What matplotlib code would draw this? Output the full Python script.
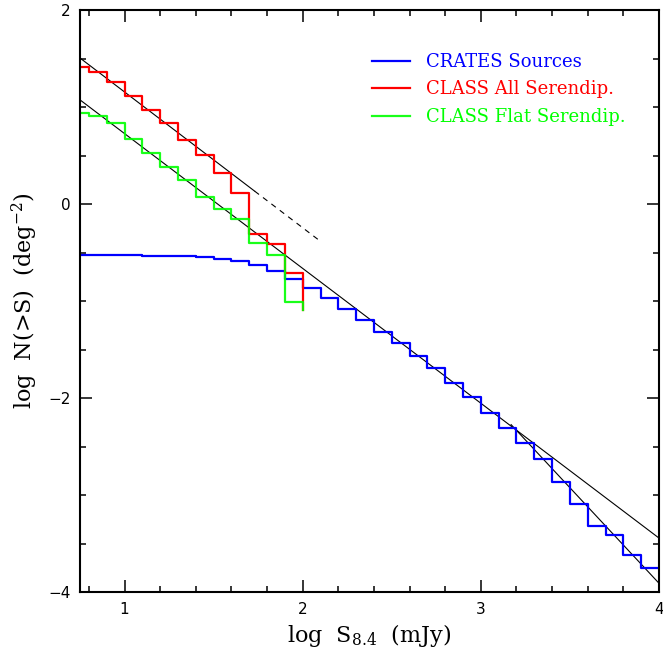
import numpy as np
import matplotlib
matplotlib.use("Agg")
import matplotlib.pyplot as plt
from matplotlib.ticker import MultipleLocator

# ----------------------------------------------------------------------------------
# DATA (log N(>S) per bin of log S_8.4)
# ----------------------------------------------------------------------------------
class_edges = [0.75, 0.8, 0.9, 1.0, 1.1, 1.2, 1.3, 1.4, 1.5, 1.6, 1.7, 1.8, 1.9, 2.0]
class_all = [1.415, 1.36, 1.26, 1.115, 0.97, 0.83, 0.66, 0.505, 0.316, 0.11,
             -0.31, -0.41, -0.71]
class_flat = [0.935, 0.907, 0.83, 0.67, 0.53, 0.385, 0.247, 0.075, -0.055, -0.158,
              -0.405, -0.526, -1.007]
class_end = -1.09

crates_edges = [0.75, 0.8, 0.9, 1.0, 1.1, 1.2, 1.3, 1.4, 1.5, 1.6, 1.7, 1.8, 1.9,
                2.0, 2.1, 2.2, 2.3, 2.4, 2.5, 2.6, 2.7, 2.8, 2.9, 3.0, 3.1, 3.2,
                3.3, 3.4, 3.5, 3.6, 3.7, 3.8, 3.9, 4.0]
crates = [-0.522, -0.522, -0.529, -0.530, -0.533, -0.536, -0.540, -0.546, -0.564,
          -0.591, -0.625, -0.694, -0.773, -0.869, -0.970, -1.082, -1.196, -1.316,
          -1.430, -1.564, -1.687, -1.842, -1.993, -2.151, -2.306, -2.461, -2.632,
          -2.863, -3.093, -3.320, -3.412, -3.622, -3.749]

# power-law fits: (value at log S = 1, slope, x start, x end)
fit_all = (1.155, -1.40, 0.75, 1.73)
fit_all_ext = (1.155, -1.40, 1.73, 2.09)      # dashed extension
fit_flat = (0.726, -1.39, 0.75, 4.0)
fit_bright = (2.0, -1.97, 3.17, 4.0)

labels = ["CRATES Sources", "CLASS All Serendip.", "CLASS Flat Serendip."]
colors = ["#0000ff", "#ff0000", "#00ff00"]

# ----------------------------------------------------------------------------------
plt.rcParams['font.family'] = ['DejaVu Sans']
plt.rcParams['mathtext.default'] = 'regular'

fig = plt.figure(figsize=(6.63, 6.58), dpi=100)
ax = fig.add_axes([80 / 663, 66 / 658, 579 / 663, 582 / 658])


def fit_line(p, **kw):
    y1, m, x0, x1 = p
    xs = np.array([x0, x1])
    ax.plot(xs, y1 + m * (xs - 1.0), color='black', lw=0.8, **kw)


fit_line(fit_all)
fit_line(fit_all_ext, dashes=(5, 4.5))
fit_line(fit_flat)
fit_line(fit_bright)

# stepped counts
ax.plot(crates_edges, crates + [crates[-1]], drawstyle='steps-post',
        color=colors[0], lw=1.6, label=labels[0])
ax.plot(class_edges + [2.0], class_all + [class_all[-1], class_end],
        drawstyle='steps-post', color=colors[1], lw=1.6, label=labels[1])
ax.plot(class_edges + [2.0], class_flat + [class_flat[-1], class_end],
        drawstyle='steps-post', color=colors[2], lw=1.6, alpha=0.9, label=labels[2])

ax.set_xlim(0.75, 4.0)
ax.set_ylim(-4, 2)
ax.xaxis.set_major_locator(MultipleLocator(1))
ax.xaxis.set_minor_locator(MultipleLocator(0.2))
ax.yaxis.set_major_locator(MultipleLocator(2))
ax.yaxis.set_minor_locator(MultipleLocator(0.5))
ax.tick_params(which='both', direction='in', top=True, right=True, width=1.1)
ax.tick_params(which='major', length=8.5, labelsize=11, pad=7)
ax.tick_params(which='minor', length=4)
for s in ax.spines.values():
    s.set_linewidth(1.5)

serif = ['DejaVu Serif']
ax.set_xlabel("log  S$_{8.4}$  (mJy)", fontsize=16, family=serif, labelpad=4)
ax.set_ylabel("log  N(>S)  (deg$^{-2}$)", fontsize=16, family=serif, labelpad=6)

leg = ax.legend(loc='upper left', bbox_to_anchor=(0.505, 0.926), frameon=False,
                prop={'family': serif, 'size': 13}, handlelength=2.1,
                handletextpad=0.85, labelspacing=0.52, borderpad=0, borderaxespad=0)
for t, c in zip(leg.get_texts(), colors):
    t.set_color(c)

fig.savefig("out.png", dpi=100)
